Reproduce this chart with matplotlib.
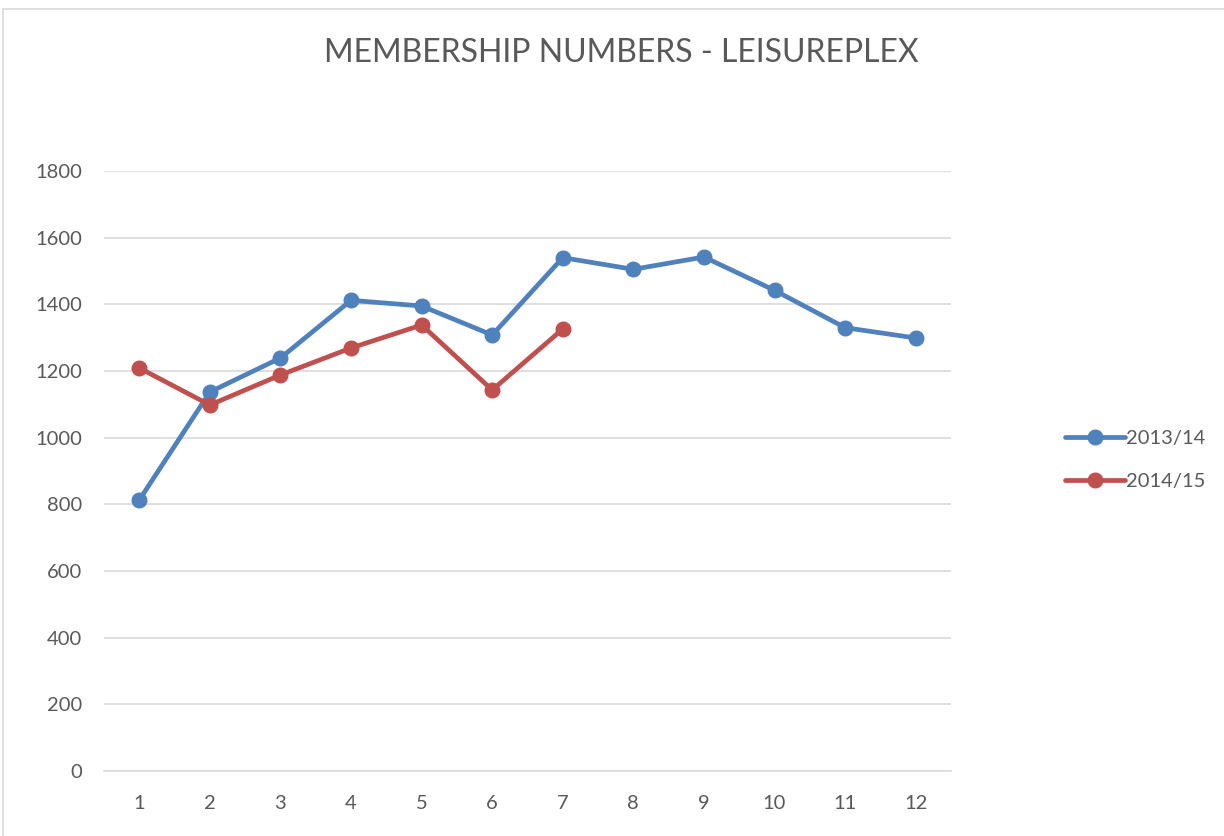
import matplotlib.pyplot as plt
from matplotlib.patches import Rectangle

months = list(range(1, 13))
members_1314 = [813, 1137, 1239, 1412, 1395, 1308, 1540, 1505, 1542, 1442, 1330, 1299]
months_1415 = list(range(1, 8))
members_1415 = [1209, 1098, 1188, 1269, 1338, 1143, 1326]

plt.rcParams['font.family'] = ['Lato', 'DejaVu Sans']
grey = '#595959'

fig = plt.figure(figsize=(12.24, 8.36), dpi=100)
ax = fig.add_axes([104 / 1224, 65 / 836, 847 / 1224, 600 / 836])

# light chart border like the excel export
fig.patches.append(Rectangle((3 / 1224, -0.01), 1.1, (836 - 9) / 836 + 0.01,
                             transform=fig.transFigure, fill=False,
                             edgecolor='#d9d9d9', linewidth=1.2))

ax.plot(months, members_1314, color='#4f81bd', lw=3.4, marker='o', ms=10.5,
        label='2013/14', solid_capstyle='round')
ax.plot(months_1415, members_1415, color='#c0504d', lw=3.4, marker='o', ms=10.5,
        label='2014/15', solid_capstyle='round')

ax.set_xlim(0.5, 12.5)
ax.set_ylim(0, 1800)
ax.set_xticks(months)
ax.set_yticks(range(0, 1801, 200))
ax.grid(axis='y', color='#d9d9d9', lw=1.2)
ax.set_axisbelow(True)
for s in ['top', 'right', 'left']:
    ax.spines[s].set_visible(False)
ax.spines['bottom'].set_color('#d9d9d9')
ax.spines['bottom'].set_linewidth(1.2)
ax.tick_params(length=0, labelsize=14.5, labelcolor=grey)
ax.tick_params(axis='y', pad=16)
ax.tick_params(axis='x', pad=17)

fig.text(621 / 1224, 1 - 53 / 836, 'MEMBERSHIP NUMBERS - LEISUREPLEX', ha='center',
         va='center', fontsize=23, color=grey)

ax.legend(loc='center left', bbox_to_anchor=(1065 / 1224, 1 - 460 / 836),
          bbox_transform=fig.transFigure, frameon=False, fontsize=14.5,
          labelcolor=grey, handlelength=3.0, handletextpad=0.05, labelspacing=1.3,
          borderpad=0, borderaxespad=0)

fig.savefig('out.png', dpi=100)
